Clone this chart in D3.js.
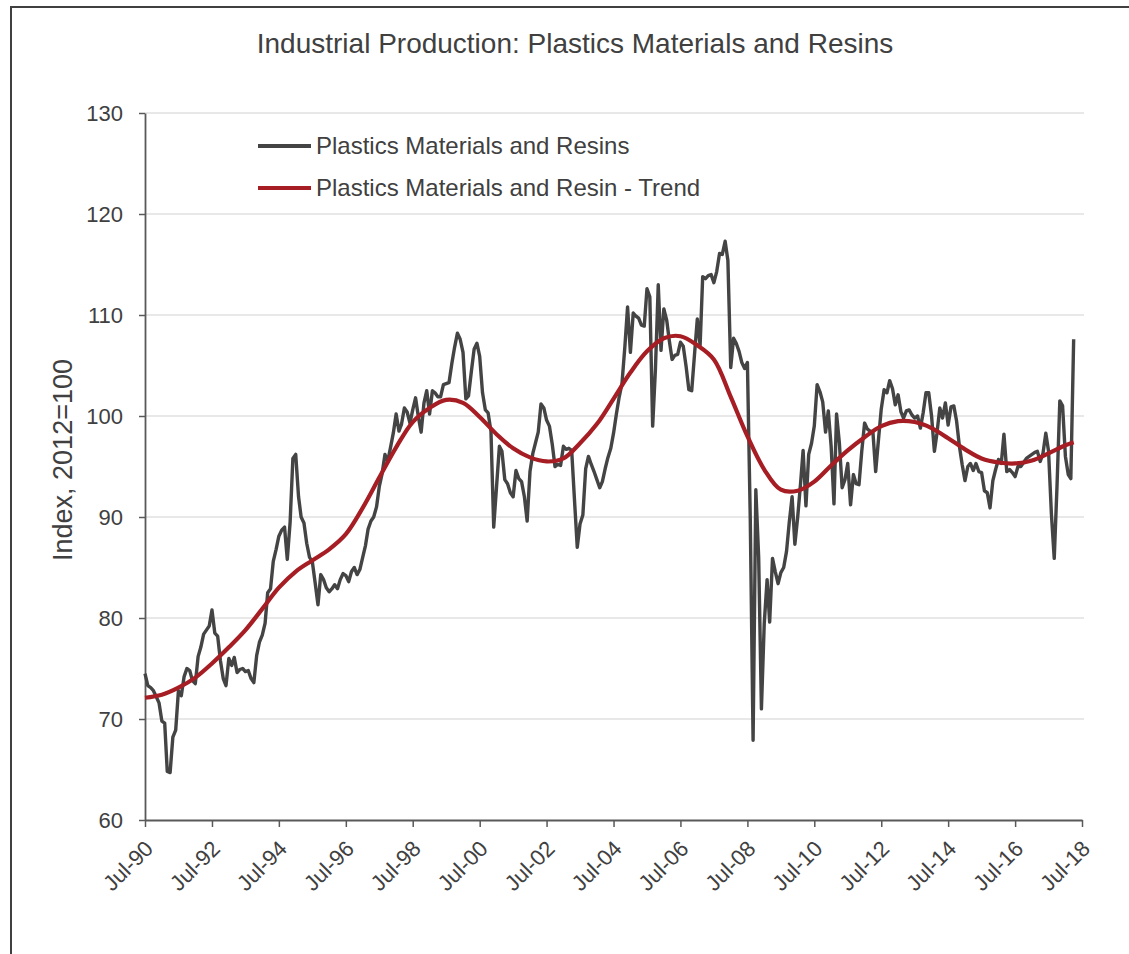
<!DOCTYPE html>
<html>
<head>
<meta charset="utf-8">
<script src="https://cdn.jsdelivr.net/npm/d3@7"></script>
<style>
  body { margin: 0; background: #fff; }
  svg text { font-family: "Liberation Sans", Arial, sans-serif; fill: #404040; }
</style>
</head>
<body>
<svg id="chart" width="1129" height="954"></svg>
<script>
// ---------------- DATA ----------------
const chartTitle = "Industrial Production: Plastics Materials and Resins";
const yAxisTitle = "Index, 2012=100";
const seriesNames = ["Plastics Materials and Resins", "Plastics Materials and Resin - Trend"];

// monthly series, first value = Jul 1990, last value = Apr 2018
const productionValues = [
  74.5,73.3,73.1,72.8,72.2,71.6,69.8,69.6,64.8,64.7,68.2,68.9,
  72.8,72.3,74.2,75.0,74.8,73.8,73.5,76.2,77.1,78.4,78.8,79.2,
  80.8,78.5,78.2,75.8,74.0,73.3,76.0,75.3,76.1,74.6,74.9,75.0,
  74.7,74.8,74.0,73.6,76.3,77.6,78.3,79.5,82.5,82.9,85.6,86.8,
  88.1,88.7,89.0,85.8,89.5,95.8,96.2,92.0,90.0,89.4,87.4,86.0,
  85.6,83.5,81.3,84.3,83.8,83.0,82.6,82.9,83.3,82.9,83.8,84.4,
  84.2,83.6,84.6,85.0,84.3,84.8,86.0,87.2,88.8,89.6,90.0,91.0,
  93.0,94.3,96.2,95.5,96.9,98.3,100.2,98.5,99.2,100.8,100.4,99.3,
  100.6,101.8,99.9,98.4,101.3,102.5,100.2,102.5,102.3,101.9,101.9,103.1,
  103.2,103.3,105.2,106.8,108.2,107.6,106.3,101.7,102.0,104.4,106.6,107.2,
  105.9,102.3,100.6,100.3,98.5,89.0,93.0,97.0,96.5,93.7,93.3,92.4,
  92.0,94.6,93.8,93.5,92.0,89.6,94.5,96.3,97.3,98.4,101.2,100.8,
  99.6,99.0,97.2,95.0,95.2,95.1,97.0,96.7,96.8,96.6,91.8,87.0,
  89.3,90.2,94.8,96.0,95.2,94.5,93.7,92.9,93.5,94.8,95.9,96.8,
  98.3,100.2,101.9,103.2,106.8,110.8,106.3,110.2,109.9,109.7,109.0,108.9,
  112.6,111.8,99.0,104.6,113.0,106.5,110.6,109.5,107.5,105.6,106.0,106.1,
  107.3,106.9,104.9,102.6,102.5,106.0,109.6,107.0,113.8,113.6,113.9,114.0,
  113.2,114.3,116.1,116.0,117.3,115.4,104.8,107.7,107.2,106.4,105.3,104.7,
  105.3,90.0,67.9,92.7,86.0,71.0,79.5,83.8,79.6,85.9,84.6,83.4,
  84.5,85.0,86.6,89.5,92.0,87.3,90.0,93.3,96.6,91.1,96.2,97.3,
  99.0,103.1,102.4,101.4,98.4,100.5,97.0,91.3,100.2,97.3,92.9,93.7,
  95.3,91.2,94.2,93.3,93.2,96.5,99.3,98.7,98.5,98.4,94.5,97.7,
  100.7,102.6,102.3,103.5,102.7,101.1,102.1,100.4,99.8,100.5,100.6,100.1,
  99.8,100.0,98.8,100.3,102.3,102.3,100.0,96.5,98.3,100.8,99.8,101.3,
  99.1,100.9,101.0,99.5,97.0,95.2,93.6,95.0,95.3,94.6,95.3,94.5,
  94.4,92.6,92.4,90.9,93.6,94.7,95.7,95.3,98.2,94.5,94.7,94.4,
  94.0,95.0,95.0,95.4,95.8,96.0,96.2,96.4,96.5,95.5,96.3,98.3,
  96.5,90.3,85.9,93.0,101.5,101.0,96.0,94.2,93.8,107.6
];

// trend, read every 6 months from Jul 1990 (month offsets below)
const trendMonthOffsets = [
  0,6,12,18,24,30,36,42,48,54,60,66,72,78,84,90,96,102,108,114,120,126,132,138,
  144,150,156,162,168,174,180,186,192,198,204,210,216,222,228,234,240,246,252,258,
  264,270,276,282,288,294,300,306,312,318,324,330,333
];
const trendValues = [
  72.1,72.4,73.1,74.1,75.5,77.1,78.8,80.9,83.0,84.6,85.7,86.8,88.3,90.9,93.9,96.9,
  99.4,100.8,101.6,101.3,99.9,98.2,96.8,95.9,95.5,95.8,97.3,99.2,101.7,104.3,106.4,
  107.7,107.9,107.0,105.6,101.9,98.0,94.7,92.7,92.6,93.5,95.1,96.6,97.9,99.0,99.5,
  99.4,98.8,97.8,96.7,95.8,95.4,95.3,95.6,96.3,97.1,97.4
];

const yTickValues = [60, 70, 80, 90, 100, 110, 120, 130];
const xTickYears = [1990,1992,1994,1996,1998,2000,2002,2004,2006,2008,2010,2012,2014,2016,2018];

// ---------------- DRAW ----------------
const svg = d3.select("#chart");
const start = new Date(1990, 6, 1);
const prodData = productionValues.map((v, i) => ({ date: d3.timeMonth.offset(start, i), value: v }));
const trendData = trendValues.map((v, i) => ({ date: d3.timeMonth.offset(start, trendMonthOffsets[i]), value: v }));

const x = d3.scaleTime().domain([new Date(1990, 6, 1), new Date(2018, 6, 1)]).range([145, 1082]);
const y = d3.scaleLinear().domain([60, 130]).range([820, 113]);

// outer frame
svg.append("rect").attr("x", 11).attr("y", 7).attr("width", 1140).attr("height", 970)
  .attr("fill", "none").attr("stroke", "#404040").attr("stroke-width", 2);

// title
svg.append("text").attr("x", 575).attr("y", 53).attr("text-anchor", "middle")
  .style("font-size", "28px").text(chartTitle);

// gridlines
svg.append("g").selectAll("line").data(yTickValues.filter(t => t > 60)).join("line")
  .attr("x1", 145).attr("x2", 1084)
  .attr("y1", d => y(d)).attr("y2", d => y(d))
  .attr("stroke", "#e1e1e1").attr("stroke-width", 1.5);

// y axis
const yAxis = svg.append("g").attr("transform", "translate(145,0)")
  .call(d3.axisLeft(y).tickValues(yTickValues).tickSize(6).tickSizeOuter(0).tickPadding(16));
yAxis.select(".domain").attr("stroke", "#595959").attr("stroke-width", 1.8);
yAxis.selectAll(".tick line").attr("stroke", "#595959").attr("stroke-width", 1.5);
yAxis.selectAll(".tick text").style("font-size", "22px").attr("font-family", null).attr("fill", "#404040");

// x axis
const xAxis = svg.append("g").attr("transform", "translate(0,820)")
  .call(d3.axisBottom(x)
    .tickValues(xTickYears.map(yr => new Date(yr, 6, 1)))
    .tickFormat(d3.timeFormat("%b-%y"))
    .tickSize(7).tickSizeOuter(0));
xAxis.select(".domain").attr("stroke", "#595959").attr("stroke-width", 1.8);
xAxis.selectAll(".tick line").attr("stroke", "#595959").attr("stroke-width", 1.5);
xAxis.selectAll(".tick text")
  .style("font-size", "22px").attr("font-family", null).attr("fill", "#404040")
  .attr("x", 0).attr("y", 0).attr("dy", 0)
  .attr("text-anchor", "end")
  .attr("transform", "translate(9,30) rotate(-45)");

// y axis title
svg.append("text")
  .attr("transform", "translate(72,460) rotate(-90)")
  .attr("text-anchor", "middle")
  .style("font-size", "27px").text(yAxisTitle);

// lines
const line = d3.line().x(d => x(d.date)).y(d => y(d.value));
svg.append("path").datum(prodData)
  .attr("fill", "none").attr("stroke", "#444444").attr("stroke-width", 3.4)
  .attr("stroke-linejoin", "round").attr("d", line);

const trendLine = d3.line().x(d => x(d.date)).y(d => y(d.value)).curve(d3.curveCatmullRom.alpha(0.5));
svg.append("path").datum(trendData)
  .attr("fill", "none").attr("stroke", "#a61d24").attr("stroke-width", 4.2)
  .attr("d", trendLine);

// legend
const legendColors = ["#444444", "#a61d24"];
const legendY = [146, 188];
const lg = svg.append("g");
seriesNames.forEach((name, i) => {
  lg.append("line").attr("x1", 258).attr("x2", 311).attr("y1", legendY[i]).attr("y2", legendY[i])
    .attr("stroke", legendColors[i]).attr("stroke-width", 4.2);
  lg.append("text").attr("x", 316).attr("y", legendY[i]).attr("dy", "0.35em")
    .style("font-size", "24px").text(name);
});
</script>
</body>
</html>
